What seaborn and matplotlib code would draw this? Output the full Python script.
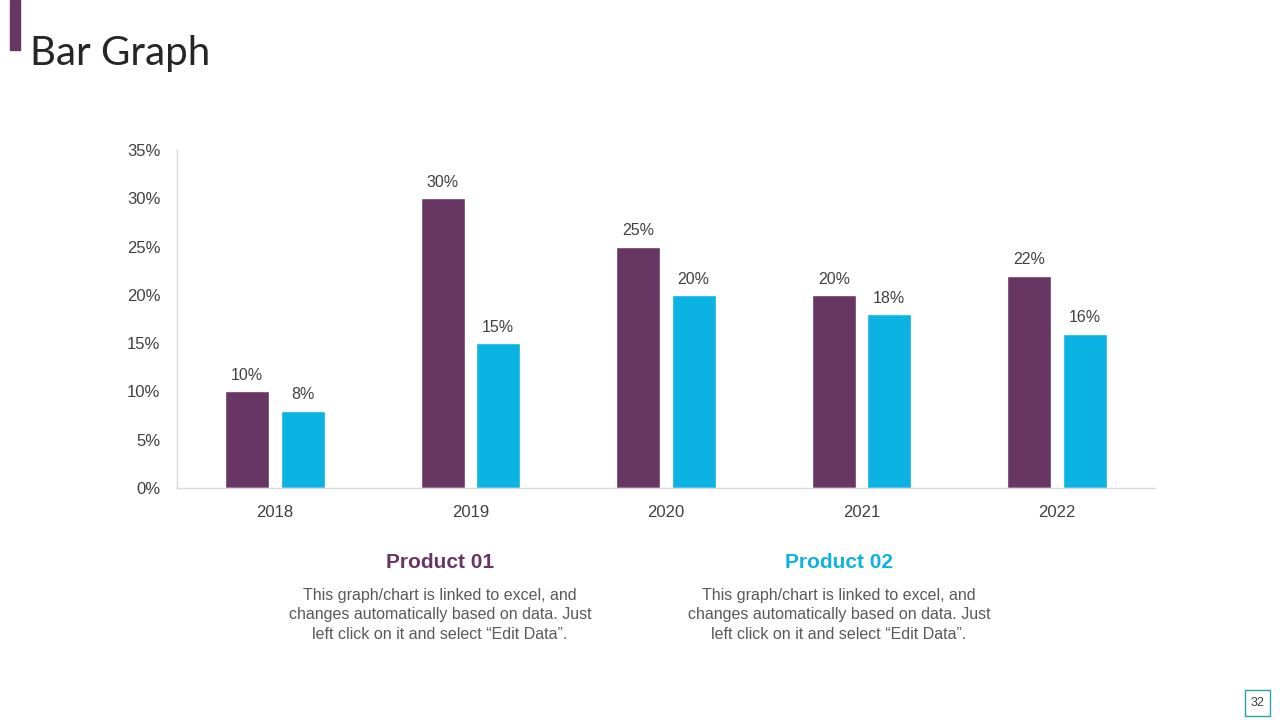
import pandas as pd
import seaborn as sns
import matplotlib.pyplot as plt
from matplotlib.patches import Rectangle

years = ["2018", "2019", "2020", "2021", "2022"]
product_01 = [10, 30, 25, 20, 22]
product_02 = [8, 15, 20, 18, 16]
series_names = ["Product 01", "Product 02"]
y_ticks = [0, 5, 10, 15, 20, 25, 30, 35]
description = "This graph/chart is linked to excel, and\nchanges automatically based on data. Just\nleft click on it and select \u201cEdit Data\u201d."

purple = "#673663"
blue = "#0BB3E2"

df = pd.DataFrame({
    "year": years * 2,
    "value": product_01 + product_02,
    "product": [series_names[0]] * len(years) + [series_names[1]] * len(years),
})

sns.set_style("white")
plt.rcParams["font.family"] = ["Liberation Sans", "DejaVu Sans"]

fig = plt.figure(figsize=(12.8, 7.2), dpi=100)
ax = fig.add_axes([0.1383, 0.3222, 0.764, 0.4694])

sns.barplot(data=df, x="year", y="value", hue="product", order=years,
            palette=[purple, blue], width=0.567, gap=0.207, ax=ax,
            legend=False, saturation=1)

for container in ax.containers:
    ax.bar_label(container, labels=[f"{v:.0f}%" for v in container.datavalues],
                 padding=6, fontsize=11.5, color="#404040")

ax.set_ylim(0, 35)
ax.set_xlim(-0.5, 4.5)
ax.set_yticks(y_ticks)
ax.set_yticklabels([f"{t}%" for t in y_ticks])
ax.set_xlabel("")
ax.set_ylabel("")
ax.tick_params(axis="both", labelsize=12, labelcolor="#404040", length=0)
ax.tick_params(axis="y", pad=12)
ax.tick_params(axis="x", pad=12)
for side in ["top", "right"]:
    ax.spines[side].set_visible(False)
for side in ["left", "bottom"]:
    ax.spines[side].set_color("#d9d9d9")
    ax.spines[side].set_linewidth(1)

# slide decorations
fig.patches.append(Rectangle((10 / 1280, 1 - 50 / 720), 10 / 1280, 50 / 720,
                             transform=fig.transFigure, color=purple))
fig.text(30 / 1280, 1 - 53 / 720, "Bar Graph", fontsize=29, color="#262626",
         va="center", ha="left", family=["Lato", "DejaVu Sans"], fontweight="normal")

fig.text(440 / 1280, 1 - 563 / 720, series_names[0], fontsize=15, color=purple,
         fontweight="bold", ha="center", va="center")
fig.text(839 / 1280, 1 - 563 / 720, series_names[1], fontsize=15, color=blue,
         fontweight="bold", ha="center", va="center")
fig.text(440 / 1280, 1 - 615 / 720, description, fontsize=11.5, color="#595959",
         ha="center", va="center", linespacing=1.4)
fig.text(839 / 1280, 1 - 615 / 720, description, fontsize=11.5, color="#595959",
         ha="center", va="center", linespacing=1.4)

fig.patches.append(Rectangle((1245 / 1280, 1 - 716 / 720), 25 / 1280, 26 / 720,
                             transform=fig.transFigure, fill=False,
                             edgecolor="#2aa3b0", linewidth=1))
fig.text(1257.5 / 1280, 1 - 703 / 720, "32", fontsize=9, color="#404040",
         ha="center", va="center")

fig.savefig("out.png", dpi=100)
